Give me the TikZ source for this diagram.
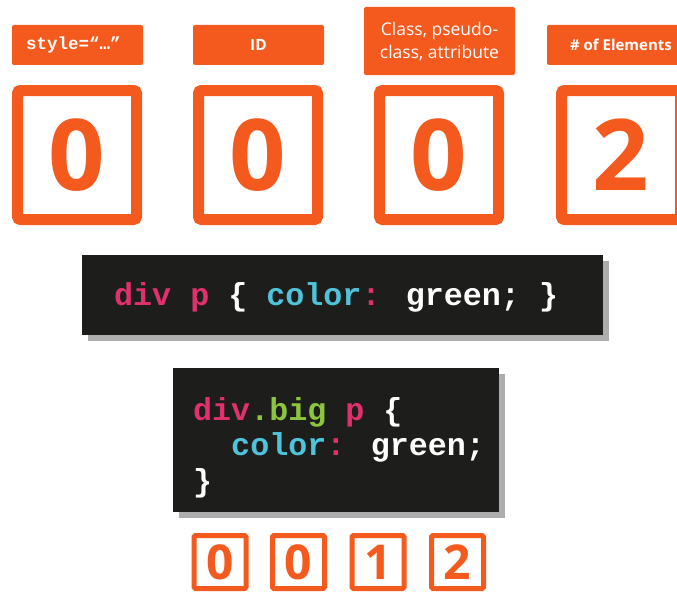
\documentclass[tikz,border=0pt]{standalone}
\usepackage{fontspec}
\setmainfont{Open Sans}
\newfontfamily\codefont{Liberation Mono}
\usetikzlibrary{positioning,shadows}
\definecolor{cssorange}{HTML}{F45A1E}
\definecolor{csspink}{HTML}{E0306E}
\definecolor{csscyan}{HTML}{4EC3DA}
\definecolor{cssgreen}{HTML}{8CC63F}
\definecolor{codebg}{HTML}{1D1D1B}
\newcommand{\sel}[1]{\textcolor{csspink}{#1}}
\newcommand{\prop}[1]{\textcolor{csscyan}{#1}}
\newcommand{\cls}[1]{\textcolor{cssgreen}{#1}}
\tikzset{
  lbl/.style={fill=cssorange, rounded corners=2pt, text=white, inner sep=0pt, align=center},
  cnt/.style={draw=cssorange, line width=11pt, rounded corners=3pt, text=cssorange,
    minimum width=119pt, minimum height=129pt, inner sep=0pt,
    font=\fontsize{99}{99}\selectfont\bfseries},
  cntsmall/.style={draw=cssorange, line width=5pt, rounded corners=1.5pt, text=cssorange,
    minimum width=52pt, minimum height=53pt, inner sep=0pt,
    font=\fontsize{48}{48}\selectfont\bfseries},
  codebox/.style={fill=codebg, inner sep=0pt,
    drop shadow={shadow xshift=6pt, shadow yshift=-6pt, fill=black!40, opacity=.8}},
  codeline/.style={anchor=base west, inner sep=0pt, text=white,
    font=\codefont\fontsize{31.7}{36}\selectfont\bfseries}
}
\begin{document}
\begin{tikzpicture}[x=1pt,y=-1pt]
  \clip (0,0) rectangle (677,594);
  \useasboundingbox (0,0) rectangle (677,594);
  \fill[white] (0,0) rectangle (677,594);
  % header labels
  \node[lbl, minimum width=131pt, minimum height=40pt,
    font=\codefont\fontsize{17.5}{20}\selectfont\bfseries] (lblstyle) at (77.5,45) {style=“…”\hspace{8pt}};
  \node[lbl, minimum width=131pt, minimum height=40pt,
    font=\fontsize{15.5}{18}\selectfont\bfseries] (lblid) at (258.5,45) {ID};
  \node[lbl, minimum width=151pt, minimum height=68pt,
    font=\fontsize{17.5}{23}\selectfont] (lblclass) at (439.5,41) {Class, pseudo-\\class, attribute};
  \node[lbl, minimum width=148pt, minimum height=40pt,
    font=\fontsize{15}{18}\selectfont\bfseries] (lblelem) at (621,45) {\# of Elements};
  % big counters
  \node[cnt] (cntstyle) at (77,155) {0};
  \node[cnt] (cntid) at (258,155) {0};
  \node[cnt] (cntclass) at (439,155) {0};
  \node[cnt] (cntelem) at (621,155) {2};
  % code samples
  \node[codebox, minimum width=521pt, minimum height=80pt] (codeA) at (342.5,295) {};
  \node[codeline] (lineA) at (114,305)
    {\sel{div p} \{ \prop{color}\sel{:} green; \}};
  \node[codebox, minimum width=326pt, minimum height=144pt] (codeB) at (336,440) {};
  \node[codeline] (lineB1) at (193,420) {\sel{div}\cls{.big} \sel{p} \{};
  \node[codeline] (lineB2) at (193,455) {\ \ \prop{color}\sel{:} green;};
  \node[codeline] (lineB3) at (193,491) {\}};
  % small counters
  \node[cntsmall] (smstyle) at (220,562) {0};
  \node[cntsmall] (smid) at (298.5,562) {0};
  \node[cntsmall] (smclass) at (378,562) {1};
  \node[cntsmall] (smelem) at (457.5,562) {2};
\end{tikzpicture}
\end{document}
